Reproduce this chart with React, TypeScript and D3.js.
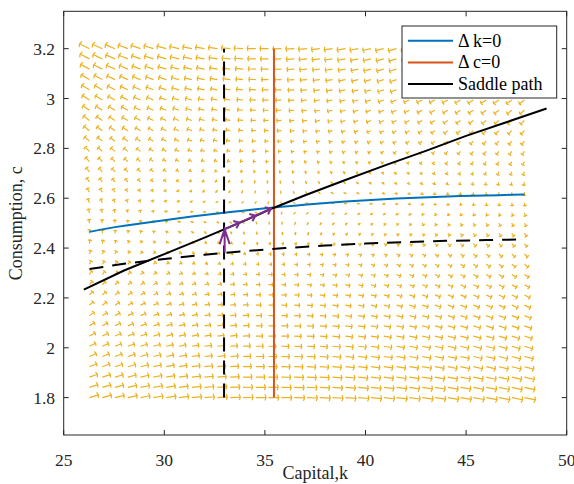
import React from "react";
import * as d3 from "d3";

// quiver grid (capital k columns, consumption c rows)
const kGrid = [
  26.28, 26.92, 27.55, 28.19, 28.82, 29.46, 30.1, 30.73, 31.37, 32.0, 32.64, 33.28,
  33.91, 34.55, 35.18, 35.82, 36.46, 37.09, 37.73, 38.36, 39.0, 39.64, 40.27, 40.91,
  41.54, 42.18, 42.82, 43.45, 44.09, 44.72, 45.36, 46.0, 46.63, 47.27, 47.9,
];
const cGrid = [
  1.8, 1.841, 1.882, 1.924, 1.965, 2.006, 2.047, 2.088, 2.129, 2.171, 2.212, 2.253,
  2.294, 2.335, 2.376, 2.418, 2.459, 2.5, 2.541, 2.582, 2.624, 2.665, 2.706, 2.747,
  2.788, 2.829, 2.871, 2.912, 2.953, 2.994, 3.035, 3.076, 3.118, 3.159, 3.2,
];
// Δk=0 locus, one value per grid column
const kDotZero = [
  2.465, 2.475, 2.484, 2.492, 2.499, 2.506, 2.513, 2.52, 2.527, 2.533, 2.539, 2.545,
  2.55, 2.556, 2.561, 2.566, 2.57, 2.575, 2.579, 2.583, 2.587, 2.59, 2.593, 2.596,
  2.599, 2.601, 2.603, 2.605, 2.607, 2.609, 2.61, 2.611, 2.612, 2.614, 2.615,
];
// consumption growth per grid column
const cGrowth = [
  0.233, 0.2125, 0.193, 0.174, 0.156, 0.138, 0.121, 0.105, 0.089, 0.074, 0.06, 0.045,
  0.032, 0.018, 0.0054, -0.007, -0.0195, -0.031, -0.043, -0.054, -0.065, -0.075, -0.085,
  -0.095, -0.105, -0.115, -0.124, -0.133, -0.142, -0.15, -0.159, -0.167, -0.175, -0.182,
  -0.19,
];
const kSteady = 35.45;
const saddleK = [26.0, 28, 30, 32, 33, 34, 35.45, 37, 39, 41, 43, 45, 47, 49];
const saddleC = [2.233, 2.31, 2.376, 2.442, 2.476, 2.51, 2.562, 2.612, 2.673, 2.733, 2.79, 2.85, 2.905, 2.96];
const newLocusK = [26.28, 28, 30, 32, 33, 34, 36, 38, 40, 42, 44, 46, 47.9];
const newLocusC = [2.316, 2.337, 2.356, 2.373, 2.381, 2.388, 2.4, 2.41, 2.418, 2.424, 2.429, 2.432, 2.435];
const newK = 32.97;
const jumpPath = [[33, 2.381], [33, 2.476]];
const convergePath = [[33, 2.476], [33.73, 2.502], [34.53, 2.53], [35.3, 2.558]];
const xTicks = [25, 30, 35, 40, 45, 50];
const yTicks = [1.8, 2, 2.2, 2.4, 2.6, 2.8, 3, 3.2];
const legendItems = [
  { label: "\u0394 k=0", color: "#0072BD" },
  { label: "\u0394 c=0", color: "#D95319" },
  { label: "Saddle path", color: "#000000" },
];

const W = 574;
const H = 484;
const left = 63.7, right = 566.7, top = 11.3, bottom = 435;
const font = "Liberation Serif, Times New Roman, Times, DejaVu Serif, serif";

const QK = 0.671; // k units per unit of c gap
const QC = 0.0263; // c units per unit of c*growth

function arrowHead(x1: number, y1: number, x2: number, y2: number, back: number, side: number) {
  const dx = x2 - x1, dy = y2 - y1;
  const L = Math.hypot(dx, dy) || 1e-6;
  const ux = dx / L, uy = dy / L;
  const px = -uy, py = ux;
  return `M${x2 - back * ux + side * px},${y2 - back * uy + side * py}L${x2},${y2}L${x2 - back * ux - side * px},${y2 - back * uy - side * py}`;
}

export default function App() {
  const x = d3.scaleLinear().domain([25, 50]).range([left, right]);
  const y = d3.scaleLinear().domain([1.65, 3.35]).range([bottom, top]);
  const line = d3.line<number[]>().x((d) => x(d[0])).y((d) => y(d[1]));

  const quiver: string[] = [];
  kGrid.forEach((k, i) => {
    cGrid.forEach((c) => {
      const du = QK * (kDotZero[i] - c);
      const dv = QC * c * cGrowth[i];
      const x1 = x(k), y1 = y(c), x2 = x(k + du), y2 = y(c + dv);
      const L = Math.hypot(x2 - x1, y2 - y1);
      quiver.push(`M${x1},${y1}L${x2},${y2}` + arrowHead(x1, y1, x2, y2, 0.08 * L + 0.3, 0.16 * L + 1.4));
    });
  });

  const kLocus = kGrid.map((k, i) => [k, kDotZero[i]]);
  const saddle = saddleK.map((k, i) => [k, saddleC[i]]);
  const newLocus = newLocusK.map((k, i) => [k, newLocusC[i]]);

  const purple = "#7E2F8E";
  const [j0, j1] = jumpPath.map((p) => [x(p[0]), y(p[1])]);
  const conv = convergePath.map((p) => [x(p[0]), y(p[1])]);

  return (
    <svg width={W} height={H} style={{ position: "absolute", left: 0, top: 0, background: "#fff" }}>
      <rect x={0} y={0} width={W} height={H} fill="#fff" />
      <path d={quiver.join("")} fill="none" stroke="#EDB120" strokeWidth={1.2} />

      <path d={line(kLocus) || ""} fill="none" stroke="#0072BD" strokeWidth={2} />
      <line x1={x(kSteady)} x2={x(kSteady)} y1={y(1.8)} y2={y(3.2)} stroke="#D95319" strokeWidth={2} />
      <path d={line(saddle) || ""} fill="none" stroke="#000" strokeWidth={2} />
      <line x1={x(newK)} x2={x(newK)} y1={y(1.8)} y2={y(3.2)} stroke="#000" strokeWidth={2} strokeDasharray="14,9" />
      <path d={line(newLocus) || ""} fill="none" stroke="#000" strokeWidth={2} strokeDasharray="14,9" />

      <g stroke={purple} strokeWidth={2} fill="none">
        <path d={`M${j0[0]},${j0[1]}L${j1[0]},${j1[1]}` + arrowHead(j0[0], j0[1], j1[0], j1[1], 15, 5)} />
        {conv.slice(1).map((p, i) => (
          <path key={i} d={`M${conv[i][0]},${conv[i][1]}L${p[0]},${p[1]}` + arrowHead(conv[i][0], conv[i][1], p[0], p[1], 5, 4)} />
        ))}
      </g>

      {/* axes box and ticks */}
      <rect x={left} y={top} width={right - left} height={bottom - top} fill="none" stroke="#262626" strokeWidth={1} />
      <g stroke="#262626" strokeWidth={1}>
        {xTicks.map((t) => (
          <g key={t}>
            <line x1={x(t)} x2={x(t)} y1={bottom} y2={bottom - 5} />
            <line x1={x(t)} x2={x(t)} y1={top} y2={top + 5} />
          </g>
        ))}
        {yTicks.map((t) => (
          <g key={t}>
            <line x1={left} x2={left + 5} y1={y(t)} y2={y(t)} />
            <line x1={right} x2={right - 5} y1={y(t)} y2={y(t)} />
          </g>
        ))}
      </g>
      <g style={{ fontFamily: font }} fontSize={17.5} fill="#262626">
        {xTicks.map((t) => (
          <text key={t} x={x(t)} y={466} textAnchor="middle">{t}</text>
        ))}
        {yTicks.map((t) => (
          <text key={t} x={55} y={y(t) + 6} textAnchor="end">{t}</text>
        ))}
      </g>
      <text x={(left + right) / 2} y={479} textAnchor="middle" style={{ fontFamily: font }} fontSize={18} fill="#262626">Capital,k</text>
      <text transform={`translate(22,${(top + bottom) / 2}) rotate(-90)`} textAnchor="middle" style={{ fontFamily: font }} fontSize={18} fill="#262626">Consumption, c</text>

      {/* legend */}
      <rect x={402} y={26} width={154.7} height={72} fill="#fff" stroke="#262626" strokeWidth={1} />
      {legendItems.map((d, i) => {
        const ly = 40.7 + i * 21.7;
        return (
          <g key={d.label}>
            <line x1={408} x2={453} y1={ly} y2={ly} stroke={d.color} strokeWidth={2} />
            <text x={458} y={ly + 6} style={{ fontFamily: font }} fontSize={18} fill="#000">{d.label}</text>
          </g>
        );
      })}
    </svg>
  );
}
